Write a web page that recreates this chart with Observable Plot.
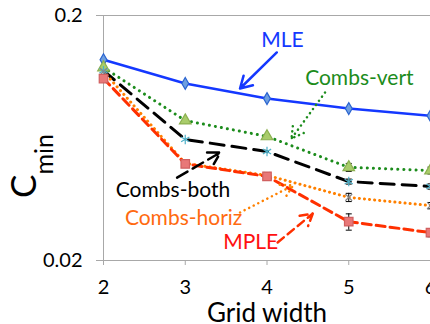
<!DOCTYPE html>
<html><head><meta charset="utf-8">
<script src="https://cdn.jsdelivr.net/npm/d3@7"></script>
<script src="https://cdn.jsdelivr.net/npm/@observablehq/plot@0.6"></script>
<style>
body{margin:0;background:#fff;}
svg{font-family:Lato, "Open Sans", sans-serif;}
</style>
</head><body><div id="chart"></div>
<script>
// ---- data ----
const gridWidths = [2, 3, 4, 5, 6];
const seriesNames = ["MLE", "Combs-vert", "Combs-both", "Combs-horiz", "MPLE"];
const mle        = [0.132, 0.1056, 0.0916, 0.0834, 0.078];
const combsVert  = [0.1227, 0.0745, 0.0642, 0.048, 0.0466];
const combsBoth  = [0.119, 0.0624, 0.0557, 0.042, 0.0401];
const combsHoriz = [0.1181, 0.0498, 0.0445, 0.0362, 0.0335];
const mple       = [0.1106, 0.0496, 0.0441, 0.0288, 0.026];
const errMle   = [0, 0, 0, 0, 0];
const errVert  = [0, 0, 0.0010, 0.0018, 0.0015];
const errBoth  = [0, 0, 0, 0.0010, 0.0010];
const errHoriz = [0, 0, 0.0010, 0.0014, 0.0010];
const errMple  = [0, 0, 0.0012, 0.0022, 0.0010];
const yTicks = [0.02, 0.2];
const yTickLabels = ["0.02", "0.2"];
const xTickLabels = ["2", "3", "4", "5", "6"];
const xLabel = "Grid width";
// annotation labels & arrows (data coordinates)
const labelText = ["MLE", "Combs-vert", "Combs-both", "Combs-horiz", "MPLE"];
const labelX = [4.19, 5.13, 2.85, 2.98, 3.80];
const labelY = [0.158, 0.1107, 0.0386, 0.0297, 0.0237];
const arrowX1 = [4.12, 4.71, 2.90, 3.67, 4.13];
const arrowY1 = [0.1413, 0.097, 0.0436, 0.0314, 0.0237];
const arrowX2 = [3.67, 4.30, 3.43, 4.32, 4.56];
const arrowY2 = [0.1007, 0.063, 0.0552, 0.0405, 0.0311];

// ---- styles ----
const styles = [
  {color: "#1438ff", text: "#1438ff", dash: null, width: 2.5, symbol: "diamond", fill: "#6f9fe0", mstroke: "#2a64d0", r: 3.6},
  {color: "#1c8c1c", text: "#1c8c1c", dash: "0.1 6", width: 3, symbol: "triangle", fill: "#a9cc6a", mstroke: "#8cb050", r: 4.3},
  {color: "#000000", text: "#000000", dash: "14 8", width: 3, symbol: "asterisk", fill: "none", mstroke: "#4fb0c8", r: 4.5},
  {color: "#ff8000", text: "#ff6a10", dash: "0.1 5", width: 3, symbol: "times", fill: "none", mstroke: "#888888", r: 3.2},
  {color: "#ff3000", text: "#ff1010", dash: "9 5", width: 3, symbol: "square", fill: "#e87878", mstroke: "#d06060", r: 4.8}
];
const arrowDash = [null, "0.1 5", "12 6", "0.1 5", "8 5"];

const values = [mle, combsVert, combsBoth, combsHoriz, mple];
const errs = [errMle, errVert, errBoth, errHoriz, errMple];
const rows = [];
seriesNames.forEach((s, k) => gridWidths.forEach((x, i) => rows.push({s, k, x, y: values[k][i], e: errs[k][i]})));
const errRows = rows.filter(d => d.e > 0);
const labels = labelText.map((t, i) => ({t, i, x: labelX[i], y: labelY[i]}));
const arrows = labelText.map((t, i) => ({i, x1: arrowX1[i], y1: arrowY1[i], x2: arrowX2[i], y2: arrowY2[i]}));

const capSymbol = {draw(ctx, size) { const r = Math.sqrt(size / Math.PI); ctx.moveTo(-r, 0); ctx.lineTo(r, 0); }};

const lineMarks = seriesNames.map((s, k) => Plot.line(rows.filter(d => d.k === k), {
  x: "x", y: "y", stroke: styles[k].color, strokeWidth: styles[k].width,
  strokeDasharray: styles[k].dash, strokeLinecap: styles[k].dash ? "round" : "butt"
}));
const dotMarks = seriesNames.map((s, k) => Plot.dot(rows.filter(d => d.k === k), {
  x: "x", y: "y", symbol: () => styles[k].symbol, r: styles[k].r,
  fill: styles[k].fill, stroke: styles[k].mstroke, strokeWidth: 1.2
}));
const arrowMarks = arrows.map(a => Plot.arrow([a], {
  x1: "x1", y1: "y1", x2: "x2", y2: "y2", stroke: styles[a.i].color,
  strokeWidth: 2.5, strokeDasharray: arrowDash[a.i], strokeLinecap: "round", headLength: 8, bend: 0
}));

const chart = Plot.plot({
  width: 430, height: 324,
  marginLeft: 103, marginRight: 0, marginTop: 15, marginBottom: 64,
  style: {fontFamily: "Lato, 'Open Sans', sans-serif", background: "#fff", overflow: "visible"},
  x: {domain: [2, 6]},
  y: {type: "log", domain: [0.02, 0.2]},
  symbol: {type: "identity"},
  marks: [
    Plot.ruleY(yTicks, {stroke: "#a8a8a8", strokeWidth: 1}),
    Plot.ruleX([2], {stroke: "#a8a8a8", strokeWidth: 1}),
    Plot.axisY({ticks: yTicks, tickFormat: d => yTickLabels[yTicks.indexOf(d)], tickSize: 7, tickPadding: 14, stroke: "#a8a8a8", fill: "#000", fontSize: 20, label: null}),
    Plot.axisX({ticks: gridWidths, tickFormat: d => xTickLabels[gridWidths.indexOf(d)], tickSize: 5, tickPadding: 14, stroke: "#a8a8a8", fill: "#000", fontSize: 20, label: null}),
    Plot.text([xLabel], {frameAnchor: "bottom", dy: 53, fontSize: 26, fill: "#000", lineAnchor: "middle"}),
    ...lineMarks,
    Plot.ruleX(errRows, {x: "x", y1: d => d.y - d.e, y2: d => d.y + d.e, stroke: "#000", strokeWidth: 1}),
    Plot.dot(errRows, {x: "x", y: d => d.y - d.e, symbol: () => capSymbol, r: 3, stroke: "#000", strokeWidth: 1}),
    Plot.dot(errRows, {x: "x", y: d => d.y + d.e, symbol: () => capSymbol, r: 3, stroke: "#000", strokeWidth: 1}),
    ...dotMarks,
    ...arrowMarks,
    Plot.text(labels, {x: "x", y: "y", text: "t", fill: d => styles[d.i].text, fontSize: 21, lineAnchor: "middle"})
  ]
});
document.getElementById("chart").appendChild(chart);

// y-axis title with subscript
const svg = d3.select(chart);
const yt = svg.append("text").attr("transform", "translate(36,166) rotate(-90)").attr("fill", "#000");
yt.append("tspan").attr("font-size", 35).text("C");
yt.append("tspan").attr("font-size", 25).attr("dy", 17).text("min");
</script>
</body></html>
